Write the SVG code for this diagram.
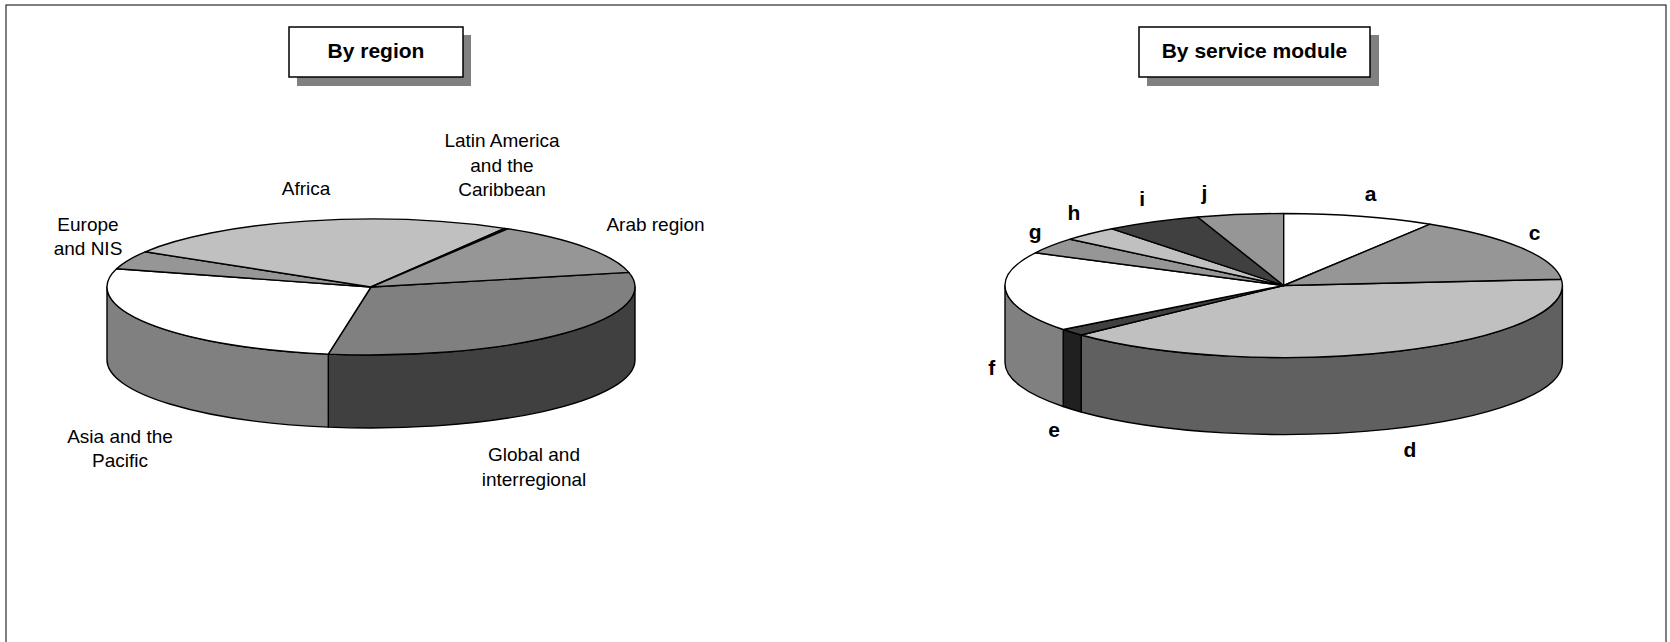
<svg xmlns="http://www.w3.org/2000/svg" width="1670" height="642" viewBox="0 0 1670 642">
<style>
.s{stroke:#000;stroke-width:1.4;stroke-linejoin:round}
.lbl{font-family:"Liberation Sans",Arial,sans-serif;font-size:19px;fill:#000;text-anchor:middle}
.ttl{font-family:"Liberation Sans",Arial,sans-serif;font-size:21px;font-weight:bold;fill:#000;text-anchor:middle}
.let{font-family:"Liberation Sans",Arial,sans-serif;font-size:21px;font-weight:bold;fill:#000;text-anchor:middle}
.box{fill:#fff;stroke:#000;stroke-width:1.5}
.shadow{fill:#808080}
</style>
<rect width="1670" height="642" fill="#fff"/>
<rect x="6" y="5" width="1660" height="660" fill="none" stroke="#000" stroke-width="1"/>

<g id="title-region">
<rect class="shadow" x="297" y="35" width="174" height="51"/>
<rect class="box" x="289" y="27" width="174" height="50"/>
<text class="ttl" x="376" y="58">By region</text>
</g>
<g id="title-module">
<rect class="shadow" x="1147" y="35" width="232" height="51"/>
<rect class="box" x="1139" y="27" width="231" height="50"/>
<text class="ttl" x="1254.5" y="58">By service module</text>
</g>

<g id="pie-region">
<g id="reg-global">
<path class="s" fill="#404040" d="M635,287 A264,68 0 0 1 328.3,354.1 L328.3,427.1 A264,68 0 0 0 635,360 Z"/>
<path class="s" fill="#808080" d="M371,287 L628.8,272.4 A264,68 0 0 1 328.3,354.1 Z"/>
</g>
<g id="reg-asia">
<path class="s" fill="#808080" d="M328.3,354.1 A264,68 0 0 1 107,287 L107,360 A264,68 0 0 0 328.3,427.1 Z"/>
<path class="s" fill="#ffffff" d="M371,287 L328.3,354.1 A264,68 0 0 1 116.6,268.8 Z"/>
</g>
<g id="reg-europe">
<path class="s" fill="#969696" d="M371,287 L116.6,268.8 A264,68 0 0 1 145.2,251.8 Z"/>
</g>
<g id="reg-africa">
<path class="s" fill="#c0c0c0" d="M371,287 L145.2,251.8 A264,68 0 0 1 504.6,228.4 Z"/>
</g>
<g id="reg-latin">
<path class="s" fill="#333333" d="M371,287 L504.6,228.4 A264,68 0 0 1 507.8,228.8 Z"/>
</g>
<g id="reg-arab">
<path class="s" fill="#969696" d="M371,287 L507.8,228.8 A264,68 0 0 1 628.8,272.4 Z"/>
</g>
</g>

<g id="labels-region">
<text class="lbl" x="306" y="195">Africa</text>
<text class="lbl" x="502" y="147">Latin America</text>
<text class="lbl" x="502" y="171.5">and the</text>
<text class="lbl" x="502" y="196">Caribbean</text>
<text class="lbl" x="655.5" y="231">Arab region</text>
<text class="lbl" x="88" y="231">Europe</text>
<text class="lbl" x="88" y="255">and NIS</text>
<text class="lbl" x="120" y="443">Asia and the</text>
<text class="lbl" x="120" y="467">Pacific</text>
<text class="lbl" x="534" y="461">Global and</text>
<text class="lbl" x="534" y="485.5">interregional</text>
</g>

<g id="pie-module">
<g id="mod-d">
<path class="s" fill="#606060" d="M1562.4,285.5 A278.7,72 0 0 1 1081.2,335 L1081.2,412 A278.7,72 0 0 0 1562.4,362.5 Z"/>
<path class="s" fill="#c0c0c0" d="M1283.7,285.5 L1561.3,279.2 A278.7,72 0 0 1 1081.2,335 Z"/>
</g>
<g id="mod-e">
<path class="s" fill="#202020" d="M1081.2,335 A278.7,72 0 0 1 1063.2,329.5 L1063.2,406.5 A278.7,72 0 0 0 1081.2,412 Z"/>
<path class="s" fill="#404040" d="M1283.7,285.5 L1081.2,335 A278.7,72 0 0 1 1063.2,329.5 Z"/>
</g>
<g id="mod-f">
<path class="s" fill="#808080" d="M1063.2,329.5 A278.7,72 0 0 1 1005,285.5 L1005,362.5 A278.7,72 0 0 0 1063.2,406.5 Z"/>
<path class="s" fill="#ffffff" d="M1283.7,285.5 L1063.2,329.5 A278.7,72 0 0 1 1035.4,252.8 Z"/>
</g>
<g id="mod-g">
<path class="s" fill="#969696" d="M1283.7,285.5 L1035.4,252.8 A278.7,72 0 0 1 1070.2,239.2 Z"/>
</g>
<g id="mod-h">
<path class="s" fill="#c0c0c0" d="M1283.7,285.5 L1070.2,239.2 A278.7,72 0 0 1 1112.1,228.8 Z"/>
</g>
<g id="mod-i">
<path class="s" fill="#404040" d="M1283.7,285.5 L1112.1,228.8 A278.7,72 0 0 1 1197.6,217 Z"/>
</g>
<g id="mod-j">
<path class="s" fill="#969696" d="M1283.7,285.5 L1197.6,217 A278.7,72 0 0 1 1283.7,213.5 Z"/>
</g>
<g id="mod-a">
<path class="s" fill="#ffffff" d="M1283.7,285.5 L1283.7,213.5 A278.7,72 0 0 1 1430.2,224.2 Z"/>
</g>
<g id="mod-c">
<path class="s" fill="#969696" d="M1283.7,285.5 L1430.2,224.2 A278.7,72 0 0 1 1561.3,279.2 Z"/>
</g>
</g>

<g id="labels-module">
<text class="let" x="1370.5" y="201">a</text>
<text class="let" x="1534.7" y="239.5">c</text>
<text class="let" x="1410" y="457">d</text>
<text class="let" x="1054" y="437">e</text>
<text class="let" x="991.7" y="375">f</text>
<text class="let" x="1035.2" y="239">g</text>
<text class="let" x="1073.8" y="220">h</text>
<text class="let" x="1142.2" y="206">i</text>
<text class="let" x="1204.5" y="200">j</text>
</g>
</svg>
